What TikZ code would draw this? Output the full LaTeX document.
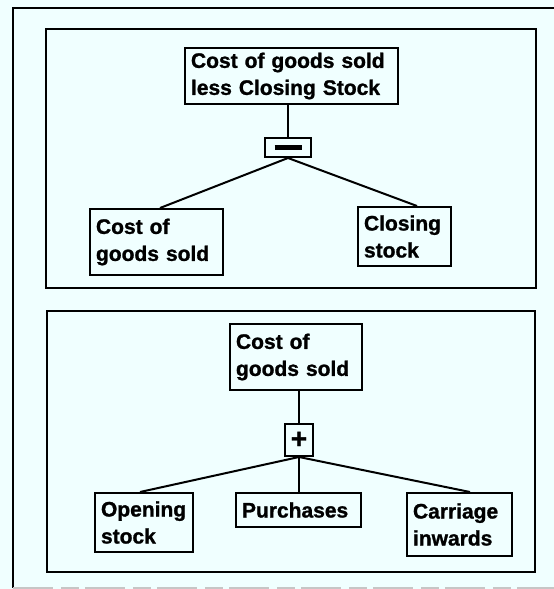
\documentclass[tikz,border=0pt]{standalone}
\usepackage{fontspec}
\setmainfont{Liberation Sans}[BoldFeatures={FakeBold=1.2}]
\definecolor{paper}{RGB}{240,255,255}
\tikzset{
  panel/.style={draw=black, line width=2pt},
  term/.style={draw=black, line width=2pt, fill=paper,
    font=\bfseries\fontsize{21}{27}\selectfont,
    align=left, inner xsep=6pt, inner ysep=0pt},
  opbox/.style={draw=black, line width=2pt, fill=paper, inner sep=0pt},
  link/.style={draw=black, line width=2pt},
}
\begin{document}
\begin{tikzpicture}[x=1pt, y=-1pt]
  % page
  \fill[paper] (0,0) rectangle (554,589);
  \useasboundingbox (0,0) rectangle (554,589);

  % outer frame
  \draw[line width=2pt] (554,8) -- (13,8) -- (13,588);
  \draw[line width=1.5pt, gray!45, dash pattern=on 40pt off 8pt on 18pt off 6pt]
    (13,588) -- (554,588);

  % panels
  \draw[panel] (46,29) rectangle (536,288);
  \draw[panel] (47,311) rectangle (535,572);

  % upper tree: subtraction
  \node[term, text width=201pt, minimum height=56pt] (diff) at (291.5,76)
    {Cost of goods sold\\less Closing Stock};
  \node[opbox, minimum width=46pt, minimum height=19pt] (minus) at (288,147.5)
    {\rule{27pt}{5pt}};
  \node[term, text width=121pt, minimum height=66pt] (cogsA) at (156.5,242)
    {Cost of\\goods sold};
  \node[term, text width=81pt, minimum height=59pt] (close) at (404.5,236.5)
    {Closing\\stock};

  \draw[link] (minus.north) -- (minus.north |- diff.south);
  \draw[link] (minus.south) -- ([xshift=3.5pt]cogsA.north);
  \draw[link] (minus.south) -- ([xshift=12.5pt]close.north);

  % lower tree: addition
  \node[term, text width=120pt, minimum height=66pt] (cogsB) at (296,357)
    {Cost of\\goods sold};
  \node[opbox, minimum width=28pt, minimum height=32pt,
        font=\bfseries\fontsize{28}{28}\selectfont] (plus) at (299,440) {+};
  \node[term, text width=86pt, minimum height=59pt] (open) at (144,522.5)
    {Opening\\stock};
  \node[term, text width=113pt, minimum height=34pt] (purch) at (298.5,510)
    {Purchases};
  \node[term, text width=93pt, minimum height=63pt] (carr) at (459.5,524.5)
    {Carriage\\inwards};

  \draw[link] (plus.north) -- (plus.north |- cogsB.south);
  \draw[link] (plus.south) -- ([xshift=-4pt]open.north);
  \draw[link] (plus.south) -- (plus.south |- purch.north);
  \draw[link] (plus.south) -- ([xshift=10.5pt]carr.north);
\end{tikzpicture}
\end{document}
